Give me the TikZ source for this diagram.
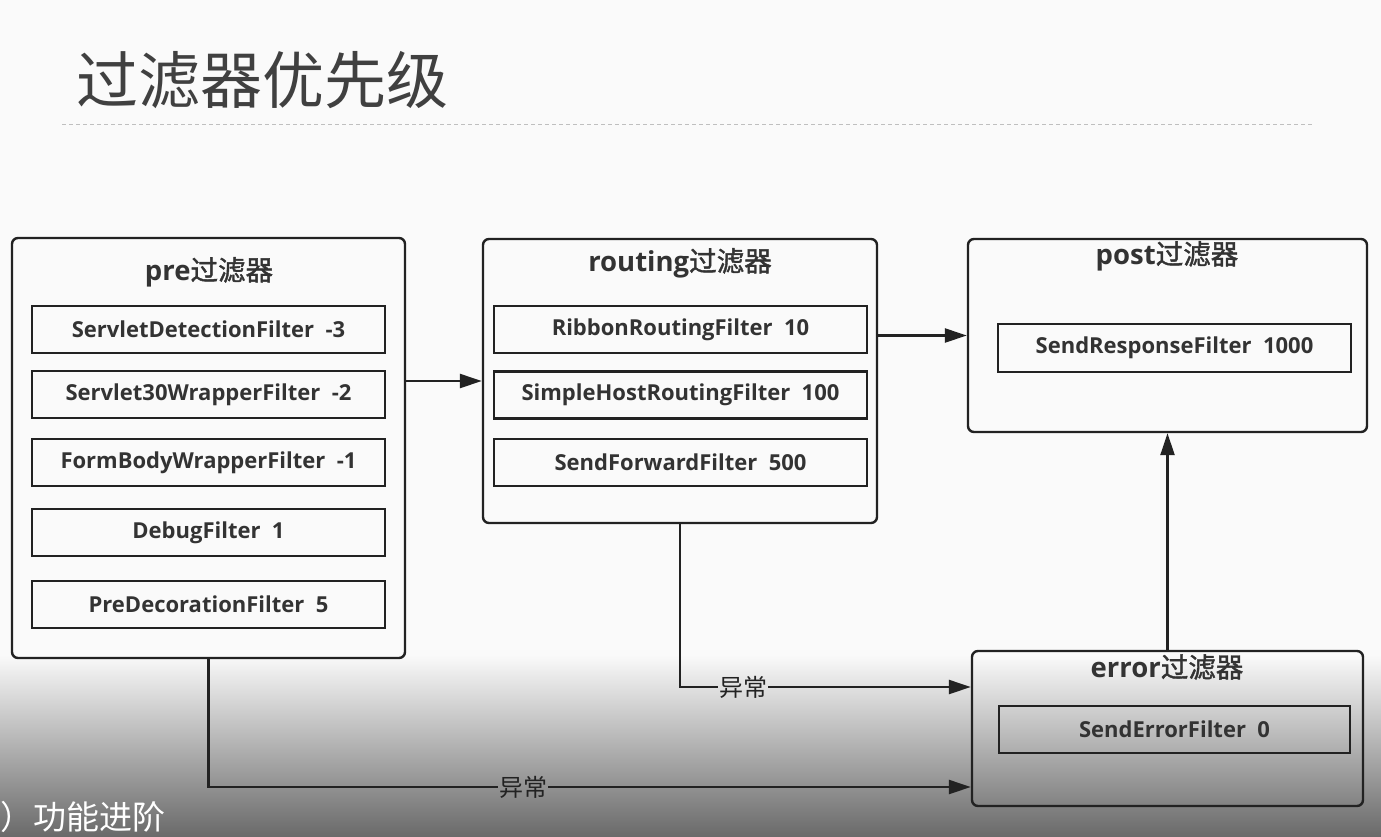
\documentclass[tikz,border=0pt]{standalone}
\usepackage{fontspec}
\setmainfont{Open Sans}
\newfontfamily\cjk[AutoFakeBold=1.5]{Noto Sans CJK SC}
\usetikzlibrary{arrows.meta}
\definecolor{ink}{HTML}{222222}
\definecolor{txt}{HTML}{333333}
\definecolor{titlec}{HTML}{404040}
\definecolor{bgc}{HTML}{FAFAFA}
\definecolor{shadebot}{HTML}{6A6A6A}
\definecolor{shademid}{HTML}{B4B4B4}
\begin{document}
\begin{tikzpicture}[x=1pt,y=-1pt,
  group/.style={draw=ink, line width=2.4pt, rounded corners=6pt, inner sep=0pt},
  filterbox/.style={draw=ink, line width=2.4pt, inner sep=0pt, text=txt,
    font=\bfseries\fontsize{22}{24}\selectfont},
  grouptitle/.style={text=txt, font=\bfseries\fontsize{27.5}{30}\selectfont},
  conn/.style={draw=ink, line width=2.4pt},
  arr/.style={conn, -{Triangle[length=22pt,width=14pt]}},
  exlabel/.style={text=ink, inner sep=1pt, font=\cjk\fontsize{24}{26}\selectfont}
]
\useasboundingbox (0,0) rectangle (1381,836);
\fill[bgc] (0,0) rectangle (1381,836);
\shade[top color=bgc, middle color=shademid, bottom color=shadebot] (0,655) rectangle (1381,836);

% title
\node[anchor=west, text=titlec, font=\cjk\fontsize{62}{66}\selectfont, inner sep=0pt] (title) at (76,80) {过滤器优先级};
\draw[draw=black!25, line width=1pt, dash pattern=on 4pt off 3pt] (62,124) coordinate (dl) -- (1312,124) coordinate (dr);

% groups
\node[group, minimum width=393pt, minimum height=420pt] (pre) at (208.5,448) {};
\node[group, minimum width=394pt, minimum height=284pt] (routing) at (680,381) {};
\node[group, minimum width=399pt, minimum height=193pt] (post) at (1167.5,335.5) {};
\node[group, minimum width=391pt, minimum height=155pt] (error) at (1167.5,728.5) {};

% group titles
\node[grouptitle] (pret) at (209,272) {pre{\cjk\bfseries 过滤器}};
\node[grouptitle] (routingt) at (680,263) {routing{\cjk\bfseries 过滤器}};
\node[grouptitle] (postt) at (1167,256) {post{\cjk\bfseries 过滤器}};
\node[grouptitle] (errort) at (1167,667) {error{\cjk\bfseries 过滤器}};

% pre filters
\node[filterbox, minimum width=353pt, minimum height=47pt] (f1) at (208.5,329.5) {ServletDetectionFilter\ \ -3};
\node[filterbox, minimum width=353pt, minimum height=47pt] (f2) at (208.5,394.5) {Servlet30WrapperFilter\ \ -2};
\node[filterbox, minimum width=353pt, minimum height=47pt] (f3) at (208.5,462.5) {FormBodyWrapperFilter\ \ -1};
\node[filterbox, minimum width=353pt, minimum height=47pt] (f4) at (208.5,532.5) {DebugFilter\ \ 1};
\node[filterbox, minimum width=353pt, minimum height=47pt] (f5) at (208.5,604.5) {PreDecorationFilter\ \ 5};

% routing filters
\node[filterbox, minimum width=373pt, minimum height=47pt] (r1) at (680.5,329.5) {RibbonRoutingFilter\ \ 10};
\node[filterbox, minimum width=373pt, minimum height=47pt] (r2) at (680.5,395) {SimpleHostRoutingFilter\ \ 100};
\node[filterbox, minimum width=373pt, minimum height=47pt] (r3) at (680.5,462.5) {SendForwardFilter\ \ 500};

% post / error filters
\node[filterbox, minimum width=353pt, minimum height=48pt] (p1) at (1174.5,348) {SendResponseFilter\ \ 1000};
\node[filterbox, minimum width=351pt, minimum height=47pt] (e1) at (1174.5,729.5) {SendErrorFilter\ \ 0};

% labels on exception lines
\node[exlabel] (ex1) at (743,687) {异常};
\node[exlabel] (ex2) at (523,787) {异常};

% connectors
\draw[arr] (pre.east |- 0,381) -- (routing.west |- 0,381);
\draw[arr] (routing.east |- post.west) -- (post.west);
\draw[conn] (routing.south) |- (ex1.west);
\draw[arr] (ex1.east) -- (error.west |- ex1.east);
\draw[conn] (pre.south) |- (ex2.west);
\draw[arr] (ex2.east) -- (error.west |- ex2.east);
\draw[arr] (error.north) -- (post.south);

% overlay caption
\node[anchor=base west, inner sep=0pt, text=white, font=\cjk\fontsize{33}{35}\selectfont] (cap) at (0,829) {）功能进阶};
\end{tikzpicture}
\end{document}
